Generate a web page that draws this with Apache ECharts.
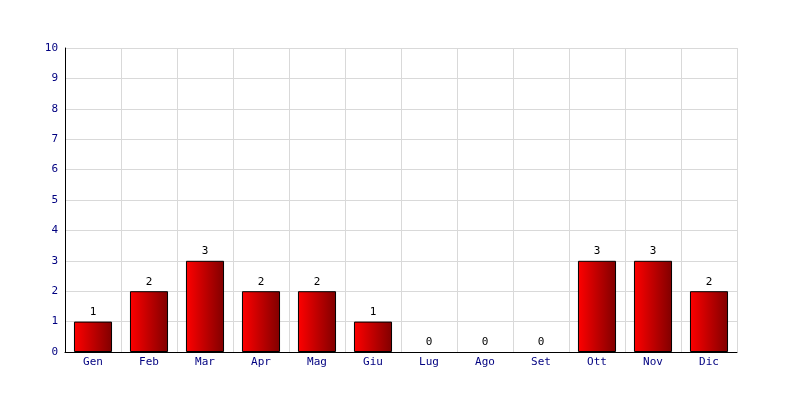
<!DOCTYPE html>
<html><head><meta charset="utf-8">
<script src="https://cdn.jsdelivr.net/npm/echarts@6/dist/echarts.min.js"></script>
<style>html,body{margin:0;padding:0;background:#fff}#c{width:800px;height:400px}</style>
</head><body><div id="c"></div>
<script>
var categories = ['Gen','Feb','Mar','Apr','Mag','Giu','Lug','Ago','Set','Ott','Nov','Dic'];
var values = [1,2,3,2,2,1,0,0,0,3,3,2];
var font = '"DejaVu Sans Mono", monospace';
var chart = echarts.init(document.getElementById('c'), null, {renderer:'canvas'});
var seriesData = values.map(function(v){
  return v === 0 ? {value:v, itemStyle:{borderWidth:0}} : v;
});
chart.setOption({
  animation:false,
  grid:{left:65,right:63,top:48,bottom:48,containLabel:false},
  xAxis:{type:'category',data:categories,boundaryGap:true,
    axisLine:{lineStyle:{color:'#000',width:1}},
    axisTick:{show:false},
    axisLabel:{color:'#000080',fontFamily:font,fontSize:11,margin:5},
    splitLine:{show:true,lineStyle:{color:'#d9d9d9',width:1}}},
  yAxis:{type:'value',min:0,max:10,interval:1,
    axisLine:{show:true,lineStyle:{color:'#000',width:1}},
    axisTick:{show:false},
    axisLabel:{color:'#000080',fontFamily:font,fontSize:11,margin:7},
    splitLine:{show:true,lineStyle:{color:'#d9d9d9',width:1}}},
  series:[{type:'bar',data:seriesData,barWidth:'68%',
    itemStyle:{borderColor:'#000',borderWidth:1,
      color:new echarts.graphic.LinearGradient(0,0,1,0,[{offset:0,color:'#ff0000'},{offset:1,color:'#800000'}])},
    label:{show:true,position:'top',color:'#000',fontFamily:font,fontSize:11,distance:4}}]
});
</script></body></html>
